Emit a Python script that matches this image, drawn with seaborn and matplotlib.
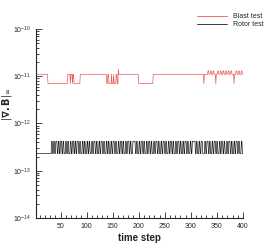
import numpy as np
import pandas as pd
import matplotlib
matplotlib.use("Agg")
import matplotlib.pyplot as plt
import matplotlib.ticker as mticker
import seaborn as sns

# Blast test: step where a new level begins, and the level (x 1e-11)
red_start = [1, 26, 64, 69, 70, 73, 74, 76, 88, 139, 141, 143, 148, 149, 152, 153,
             157, 159, 161, 162, 200, 228, 325, 326, 333, 335, 338, 340, 343, 345,
             348, 349, 352, 354, 357, 359, 362, 364, 367, 369, 372, 374, 377, 379,
             383, 384, 387, 389, 392, 394, 397, 399]
red_level = [1.1, 0.7, 1.1, 0.7, 1.1, 0.7, 1.1, 0.7, 1.1, 0.7, 1.1, 0.7, 1.1, 0.7, 1.1, 0.7,
             1.1, 0.7, 1.4, 1.1, 0.7, 1.1, 0.7, 1.1, 1.3, 1.1, 1.3, 1.1, 1.3, 1.1,
             0.7, 1.1, 1.3, 1.1, 1.3, 1.1, 1.3, 1.1, 1.3, 1.1, 1.3, 1.1, 1.3, 1.1,
             0.7, 1.1, 1.3, 1.1, 1.3, 1.1, 1.3, 1.1]

# Rotor test: toggles between two levels at these steps
black_lo = 2.3e-13
black_hi = 4.2e-13
black_switch = [33, 35, 37, 39, 41, 44, 46, 48, 50, 53, 55, 57, 60, 62, 64, 66, 69, 71,
                73, 76, 78, 80, 82, 85, 87, 89, 92, 94, 96, 98, 101, 103, 105, 107, 110,
                112, 114, 117, 119, 121, 124, 126, 128, 131, 133, 135, 138, 140, 142, 144,
                147, 149, 151, 154, 156, 158, 161, 163, 165, 168, 170, 172, 175, 177, 179,
                182, 184, 186, 189, 194, 196, 198, 201, 203, 205, 208, 210, 212, 215, 217,
                219, 222, 224, 226, 229, 231, 233, 236, 238, 240, 243, 245, 247, 250, 252,
                254, 257, 259, 261, 264, 266, 268, 271, 273, 275, 278, 280, 282, 285, 287,
                289, 292, 294, 296, 299, 301, 303, 309, 311, 313, 316, 318, 320, 323, 327,
                329, 331, 334, 336, 338, 341, 343, 345, 348, 350, 352, 355, 357, 359, 362,
                364, 366, 369, 371, 373, 376, 378, 380, 383, 385, 387, 390, 392, 394, 397, 399]

steps = np.arange(1, 401)
idx = np.searchsorted(red_start, steps, side="right") - 1
blast = np.array(red_level)[idx] * 1e-11
n_sw = np.searchsorted(black_switch, steps, side="right")
rotor = np.where(n_sw % 2 == 1, black_hi, black_lo)

df = pd.DataFrame({
    "step": np.concatenate([steps, steps]),
    "div": np.concatenate([blast, rotor]),
    "case": ["Blast test"] * len(steps) + ["Rotor test"] * len(steps),
})

sns.set_style("ticks")
plt.rcParams["font.family"] = ["Liberation Sans", "DejaVu Sans"]

fig = plt.figure(figsize=(2.77, 2.46), dpi=100)
ax = fig.add_axes([0.13, 0.114, 0.747, 0.768])
sns.lineplot(data=df, x="step", y="div", hue="case",
             palette={"Blast test": "#ec5a5a", "Rotor test": "#1a1a1a"},
             linewidth=0.5, ax=ax, estimator=None)
ax.set_yscale("log")
ax.set_ylim(1e-14, 1e-10)
ax.set_xlim(3, 400)
ax.xaxis.set_major_locator(mticker.MultipleLocator(50))
ax.xaxis.set_minor_locator(mticker.MultipleLocator(10))
ax.yaxis.set_major_locator(mticker.LogLocator(base=10))
ax.yaxis.set_minor_locator(mticker.LogLocator(base=10, subs=np.arange(2, 10)))
ax.yaxis.set_minor_formatter(mticker.NullFormatter())
ax.tick_params(which="both", direction="in", labelsize=5, width=0.6)
ax.tick_params(which="major", length=4)
ax.tick_params(which="minor", length=2)
sns.despine(ax=ax)
for s in ["left", "bottom"]:
    ax.spines[s].set_linewidth(0.8)

ax.set_xlabel("time step", fontsize=7, fontweight="bold", labelpad=2)
ax.set_ylabel(r"$|\mathbf{\nabla.B}|_\infty$", fontsize=7)
ax.yaxis.set_label_coords(-0.105, 0.6)

leg = ax.legend(loc="upper left", bbox_to_anchor=(197 / 277, 1 - 13 / 246),
                bbox_transform=fig.transFigure, borderaxespad=0, borderpad=0,
                frameon=False, fontsize=5, handlelength=4.3, handletextpad=0.9,
                labelspacing=0.2)
for h in leg.get_lines():
    h.set_linewidth(0.6)

fig.savefig("out.png", dpi=100)
